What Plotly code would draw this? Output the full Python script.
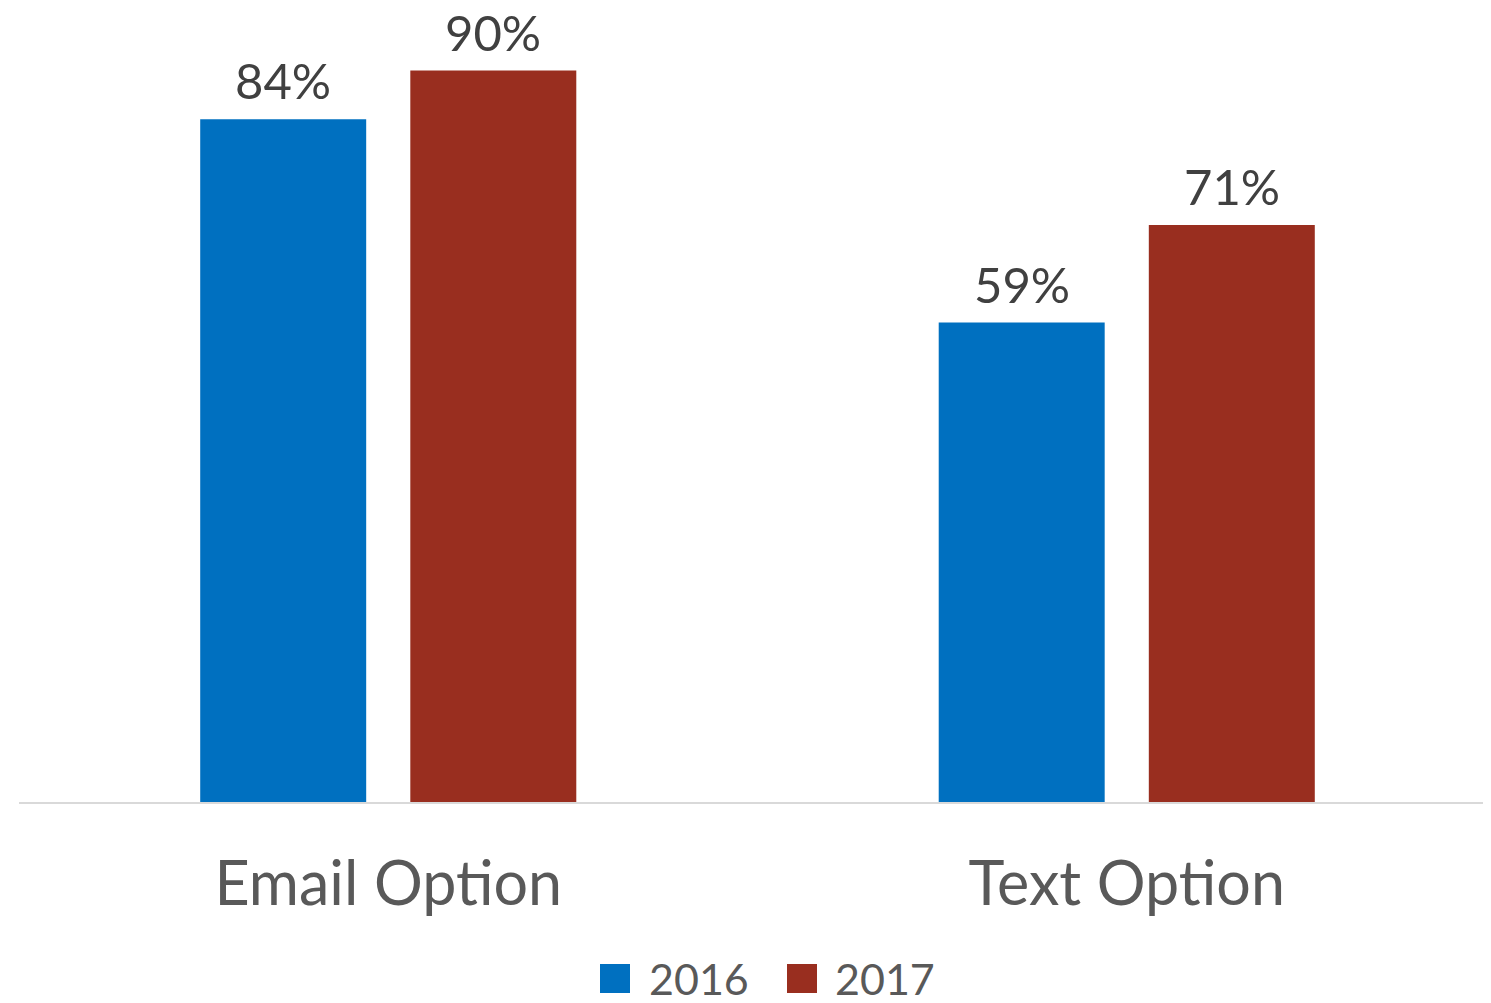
import plotly.graph_objects as go

categories = ["Email Option", "Text Option"]
series_names = ["2016", "2017"]
values_2016 = [84, 59]
values_2017 = [90, 71]
colors = ["#0070C0", "#992E1F"]

FONT = "Lato, sans-serif"

# figure geometry; the page body adds an 8px offset, so margins compensate
W, H = 1491, 1003
OFF = 8
ML, MR, MT, MB = 11, 3, 0, 209
PW, PH = W - ML - MR, H - MT - MB


def px_x(x):
    # screen pixel -> paper x
    return (x - OFF - ML) / PW


def px_y(y):
    # screen pixel -> paper y
    return (H - MB - (y - OFF)) / PH


fig = go.Figure()

for name, vals, col in zip(series_names, [values_2016, values_2017], colors):
    fig.add_trace(go.Bar(
        name=name,
        x=categories,
        y=vals,
        marker=dict(color=col, line=dict(width=0)),
        offsetgroup=name,
        showlegend=False,
        cliponaxis=False,
    ))

fig.update_layout(
    width=W,
    height=H,
    barmode="group",
    bargap=0.431,
    bargroupgap=0.21,
    plot_bgcolor="white",
    paper_bgcolor="white",
    margin=dict(l=ML, r=MR, t=MT, b=MB),
    font=dict(family=FONT, color="#595959"),
    showlegend=False,
)

# value labels above bars
offsets = [-0.5, 0.5]
slot_px = PW / len(categories) * (1 - 0.431) / 2
for name, vals, off in zip(series_names, [values_2016, values_2017], offsets):
    for cat, v in zip(categories, vals):
        fig.add_annotation(
            x=cat, y=v, xref="x", yref="y",
            text=f"{v}%",
            showarrow=False,
            yanchor="bottom",
            yshift=8,
            xshift=off * slot_px,
            font=dict(size=49, color="#404040", family=FONT),
        )

# legend drawn by hand with large square swatches
legend_items = [(600, 647), (787, 833)]
for (sx, tx), name, col in zip(legend_items, series_names, colors):
    fig.add_shape(
        type="rect", xref="paper", yref="paper",
        x0=px_x(sx), x1=px_x(sx + 30), y0=px_y(964), y1=px_y(993),
        fillcolor=col, line=dict(width=0),
    )
    fig.add_annotation(
        x=px_x(tx), y=px_y(978), xref="paper", yref="paper",
        text=name, showarrow=False, xanchor="left", yanchor="middle",
        font=dict(size=43, color="#595959", family=FONT),
    )

fig.update_xaxes(
    showline=True,
    linecolor="#D9D9D9",
    linewidth=2,
    showgrid=False,
    ticks="",
    tickfont=dict(size=61, color="#595959", family=FONT),
    ticklabelstandoff=28,
    automargin=False,
)

fig.update_yaxes(
    range=[0, 97.7],
    showgrid=False,
    showticklabels=False,
    zeroline=False,
    showline=False,
    automargin=False,
)

fig.write_html("out.html")
